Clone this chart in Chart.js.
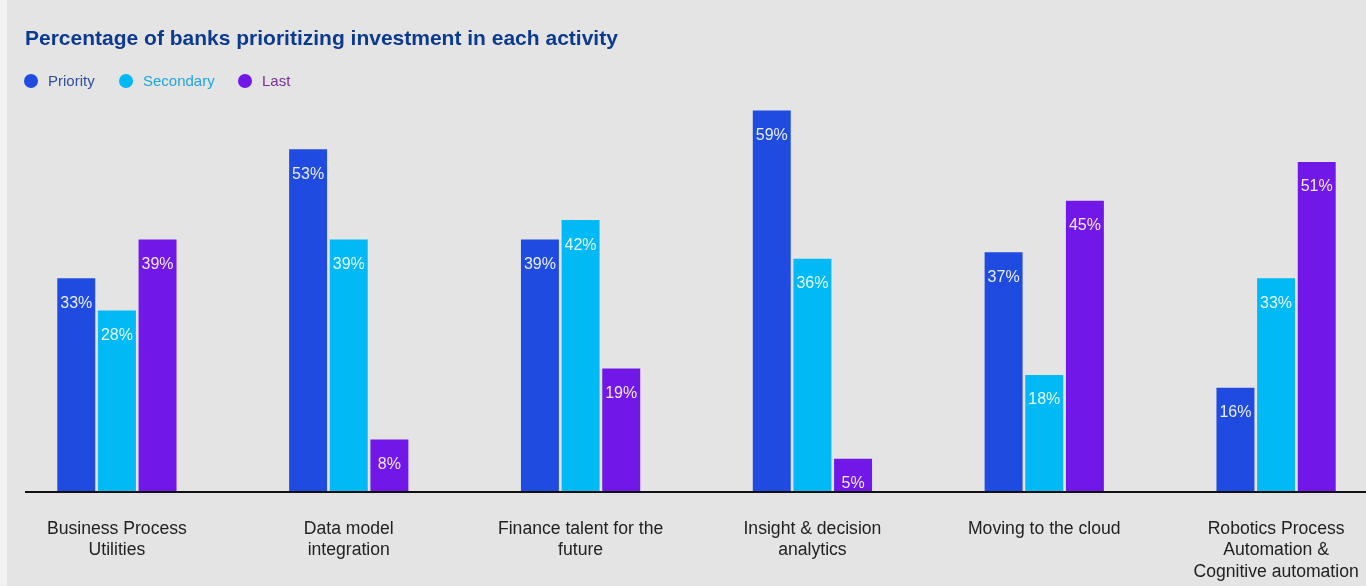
<!DOCTYPE html>
<html>
<head>
<meta charset="utf-8">
<script src="https://cdn.jsdelivr.net/npm/chart.js@4.4.1/dist/chart.umd.min.js"></script>
<style>
  html, body { margin: 0; padding: 0; background: #f2f2f2; overflow: hidden; }
  #panel { position: absolute; left: 7px; top: 0; width: 1359px; height: 586px; background: #e4e4e4; }
  #wrap { position: absolute; left: -1px; top: 0; width: 1400px; height: 586px; }
  #title { position: absolute; left: 25px; top: 26px; font: bold 21px "Liberation Sans", Arial, sans-serif; color: #0c3a8e; white-space: nowrap; }
  #legend { position: absolute; left: 24px; top: 72px; font: 15px "Liberation Sans", Arial, sans-serif; white-space: nowrap; }
  .item { position: absolute; top: 0; height: 18px; line-height: 18px; }
  .dot { position: absolute; left: 0; top: 2px; width: 14px; height: 14px; border-radius: 50%; }
  .lbl { position: absolute; left: 24px; top: 0; }
</style>
</head>
<body>
<div id="panel"></div>
<div id="wrap"><canvas id="c" width="1400" height="586"></canvas></div>
<div id="title">Percentage of banks prioritizing investment in each activity</div>
<div id="legend"></div>
<script>
// Activities and the share of banks ranking each one as a priority, secondary or last
const categories = [
  ["Business Process", "Utilities"],
  ["Data model", "integration"],
  ["Finance talent for the", "future"],
  ["Insight & decision", "analytics"],
  ["Moving to the cloud"],
  ["Robotics Process", "Automation &", "Cognitive automation"]
];
const seriesNames = ["Priority", "Secondary", "Last"];
const priority  = [33, 53, 39, 59, 37, 16];
const secondary = [28, 39, 42, 36, 18, 33];
const last      = [39, 8, 19, 5, 45, 51];

const barColors  = ["#1f4be0", "#00b9f5", "#7118e8"];
const textColors = ["#2f4f98", "#1fa6df", "#7a2e96"];

// Legend
const legendOffsets = [0, 95, 214];
const legend = document.getElementById("legend");
seriesNames.forEach((name, i) => {
  const item = document.createElement("div");
  item.className = "item";
  item.style.left = legendOffsets[i] + "px";
  item.innerHTML = '<span class="dot" style="background:' + barColors[i] + '"></span>' +
                   '<span class="lbl" style="color:' + textColors[i] + '">' + name + '</span>';
  legend.appendChild(item);
});

// White value labels inside the top of each bar
const valueLabels = {
  id: "valueLabels",
  afterDatasetsDraw(chart) {
    const ctx = chart.ctx;
    ctx.save();
    ctx.font = "16px 'Liberation Sans', Arial, sans-serif";
    ctx.fillStyle = "rgba(255,255,255,0.9)";
    ctx.textAlign = "center";
    ctx.textBaseline = "middle";
    chart.data.datasets.forEach((ds, di) => {
      chart.getDatasetMeta(di).data.forEach((bar, i) => {
        ctx.fillText(ds.data[i] + "%", bar.x, bar.y + 25);
      });
    });
    ctx.restore();
  }
};

// Baseline under the bars
const baseline = {
  id: "baseline",
  afterDatasetsDraw(chart) {
    const ctx = chart.ctx;
    const y = chart.scales.y.getPixelForValue(0);
    ctx.save();
    ctx.strokeStyle = "#111";
    ctx.lineWidth = 2;
    ctx.beginPath();
    ctx.moveTo(26, y + 1);
    ctx.lineTo(1367, y + 1);
    ctx.stroke();
    ctx.restore();
  }
};

const datasets = [priority, secondary, last].map((vals, i) => ({
  label: seriesNames[i],
  data: vals,
  backgroundColor: barColors[i],
  borderWidth: 0,
  categoryPercentage: 0.526,
  barPercentage: 0.934
}));

new Chart(document.getElementById("c"), {
  type: "bar",
  data: { labels: categories, datasets },
  options: {
    responsive: false,
    animation: false,
    layout: { padding: { top: 104, left: 2, right: 7, bottom: 0 } },
    plugins: { legend: { display: false }, tooltip: { enabled: false }, title: { display: false } },
    scales: {
      y: { display: false, min: 0, max: 60 },
      x: {
        grid: { display: false, drawTicks: false },
        border: { display: false },
        ticks: {
          autoSkip: false,
          maxRotation: 0,
          padding: 27,
          color: "#222",
          font: { family: "'Liberation Sans', Arial, sans-serif", size: 17.6, lineHeight: 1.22 }
        },
        afterFit(scale) { scale.height = 95; }
      }
    }
  },
  plugins: [valueLabels, baseline]
});
</script>
</body>
</html>
